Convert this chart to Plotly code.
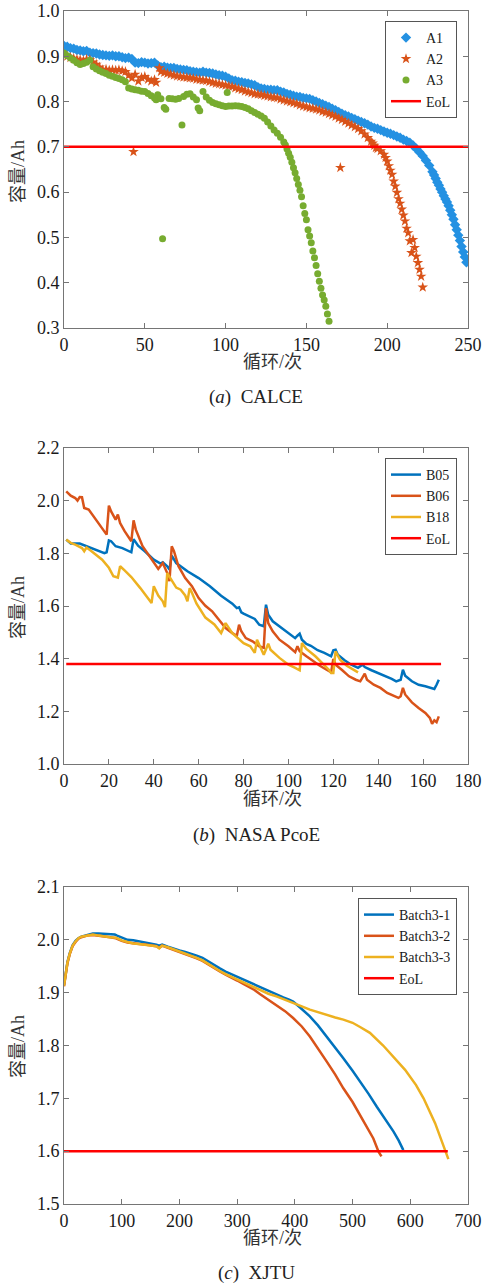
import plotly.graph_objects as go

W, H = 487, 1286

# ---------------- Panel (a) CALCE ----------------
a1_x = [0,2,4,6,8,10,12,14,16,18,20,22,24,26,28,30,32,34,36,38,40,42,44,46,48,50,52,54,56,58,
        60,62,64,66,68,70,72,74,76,78,80,82,84,86,88,90,92,94,96,98,100,102,104,106,108,110,112,114,116,118,
        120,122,124,126,128,130,132,134,136,138,140,142,144,146,148,150,152,154,156,158,160,162,164,166,168,170,
        172,174,176,178,180,182,184,186,188,190,192,194,196,198,200,202,204,206,208,210,212,214,216,218,220,222,224,226,228,
        229,230,231,232,233,234,235,236,237,238,239,240,241,242,243,244,245,246,247,248,249]
a1_y = [0.923,0.921,0.918,0.917,0.914,0.913,0.911,0.912,0.908,0.907,0.906,0.904,0.903,0.902,0.901,0.902,0.900,0.900,0.898,0.896,
        0.897,0.894,0.886,0.885,0.887,0.886,0.884,0.885,0.886,0.880,0.876,0.877,0.875,0.874,0.874,0.872,0.871,0.870,0.869,0.867,
        0.866,0.865,0.864,0.866,0.864,0.863,0.862,0.860,0.858,0.857,0.855,0.851,0.847,0.846,0.844,0.843,0.841,0.840,0.838,0.836,
        0.832,0.829,0.828,0.826,0.826,0.825,0.825,0.822,0.820,0.817,0.815,0.813,0.811,0.810,0.808,0.807,0.806,0.803,0.800,0.797,
        0.794,0.791,0.788,0.784,0.781,0.777,0.773,0.770,0.767,0.764,0.761,0.758,0.755,0.752,0.749,0.745,0.742,0.740,0.737,0.734,
        0.731,0.729,0.726,0.723,0.720,0.716,0.713,0.709,0.703,0.696,0.688,0.680,0.670,0.659,0.645,
        0.638,0.630,0.622,0.615,0.607,0.600,0.592,0.585,0.578,0.570,0.560,0.550,0.540,0.528,0.517,0.505,0.493,0.480,0.468,0.457,0.445]

a2_x = [0,2,4,6,8,10,12,14,16,18,20,22,24,26,28,30,32,34,36,38,40,42,43,44,46,48,50,52,54,56,57,59,
        60,62,64,66,68,70,72,74,76,78,80,82,84,86,88,90,92,94,96,98,100,102,104,106,108,110,112,114,116,118,
        120,122,124,126,128,130,132,134,136,138,140,142,144,146,148,150,152,154,156,158,160,162,164,166,168,170,171,
        172,174,176,178,180,182,184,186,188,190,191,192,193,194,196,198,199,200,201,202,203,204,205,206,207,208,209,
        210,211,212,213,214,215,216,217,218,219,220,221,222]
a2_y = [0.903,0.900,0.897,0.895,0.893,0.892,0.890,0.893,0.892,0.887,0.882,0.876,0.870,0.871,0.869,0.870,0.869,0.870,0.868,0.866,
        0.858,0.852,0.689,0.860,0.845,0.853,0.855,0.849,0.845,0.848,0.842,0.874,
        0.866,0.864,0.862,0.860,0.858,0.856,0.855,0.854,0.853,0.852,0.851,0.849,0.848,0.847,0.846,0.844,0.842,0.840,0.839,0.837,
        0.836,0.834,0.833,0.830,0.828,0.826,0.823,0.821,0.819,0.817,0.816,0.815,0.813,0.812,0.810,0.809,0.808,0.805,0.803,0.801,
        0.799,0.797,0.795,0.792,0.790,0.788,0.786,0.785,0.783,0.781,0.778,0.776,0.773,0.770,0.767,0.763,0.654,
        0.760,0.756,0.752,0.748,0.744,0.740,0.735,0.728,0.720,0.712,0.708,0.703,0.698,0.696,0.691,0.683,0.676,0.668,0.658,0.648,
        0.639,0.624,0.613,0.599,0.585,0.575,0.562,0.549,0.536,0.520,0.510,0.492,0.466,0.495,0.477,0.458,0.444,0.429,0.414,0.390]

a3_x = [0,2,4,6,8,10,12,14,16,18,20,22,24,26,28,30,32,34,36,38,40,42,44,46,48,50,52,54,56,57,58,60,61,62,63,65,67,69,71,73,
        74,76,78,80,82,83,84,86,88,90,92,94,96,98,100,101,102,104,106,108,110,112,114,116,118,120,122,124,126,128,130,132,134,136,
        137,138,139,140,141,142,143,144,145,146,147,148,149,150,151,152,153,154,155,156,157,158,159,160,161,162,163,164]
a3_y = [0.907,0.901,0.896,0.891,0.886,0.882,0.884,0.887,0.891,0.877,0.872,0.868,0.865,0.862,0.858,0.856,0.853,0.851,0.848,0.844,
        0.830,0.828,0.826,0.825,0.823,0.822,0.818,0.813,0.808,0.804,0.815,0.806,0.497,0.787,0.783,0.807,0.806,0.805,0.807,0.748,
        0.811,0.816,0.817,0.810,0.804,0.786,0.780,0.822,0.810,0.803,0.798,0.795,0.793,0.791,0.789,0.820,0.790,0.790,0.791,0.790,
        0.789,0.787,0.784,0.780,0.776,0.772,0.768,0.763,0.755,0.746,0.737,0.730,0.721,0.711,
        0.704,0.695,0.686,0.677,0.666,0.654,0.643,0.630,0.617,0.604,0.590,0.570,0.553,0.539,0.517,0.503,0.488,0.470,0.455,0.438,
        0.420,0.403,0.388,0.373,0.362,0.348,0.331,0.315]

eol_a_x = [0, 250]
eol_a_y = [0.7, 0.7]

# ---------------- Panel (b) NASA PcoE ----------------
b05_x = [1,3,7,10,13,15,18,19,20,21,23,26,29,30,31,33,36,40,43,44,46,47,48,50,55,60,65,70,75,77,78,79,80,85,87,89,90,91,93,96,
         100,103,104,105,106,108,110,113,116,119,120,121,122,125,128,131,133,134,137,140,143,146,148,150,151,152,155,158,161,164,165,166,167]
b05_y = [1.852,1.837,1.837,1.827,1.820,1.811,1.801,1.804,1.849,1.846,1.827,1.820,1.810,1.804,1.854,1.829,1.808,1.776,1.761,1.766,
         1.751,1.738,1.791,1.763,1.732,1.706,1.675,1.639,1.609,1.592,1.595,1.576,1.571,1.551,1.529,1.523,1.605,1.567,1.542,1.523,
         1.497,1.478,1.487,1.495,1.472,1.456,1.449,1.432,1.422,1.409,1.432,1.434,1.415,1.394,1.377,1.365,1.377,1.368,1.356,1.346,
         1.335,1.323,1.314,1.320,1.358,1.335,1.314,1.301,1.295,1.289,1.285,1.301,1.320]

b06_x = [1,3,5,6,7,8,9,11,19,20,21,23,24,25,27,30,31,32,35,38,42,44,46,47,48,49,51,54,57,60,63,66,69,72,75,77,78,79,81,84,
         87,89,90,91,93,96,100,103,104,105,108,111,114,117,119,120,121,124,127,130,132,134,135,138,141,144,147,149,150,151,152,155,
         158,161,163,164,165,166,167]
b06_y = [2.035,2.019,2.010,2.000,2.014,2.013,1.972,1.966,1.871,1.981,1.959,1.928,1.947,1.915,1.884,1.846,1.925,1.890,1.827,1.789,
         1.741,1.763,1.725,1.694,1.827,1.808,1.751,1.706,1.675,1.630,1.601,1.580,1.548,1.516,1.497,1.487,1.529,1.504,1.478,1.466,
         1.447,1.441,1.592,1.535,1.504,1.472,1.447,1.425,1.447,1.428,1.409,1.390,1.373,1.358,1.348,1.399,1.377,1.356,1.333,1.320,
         1.314,1.343,1.320,1.301,1.289,1.270,1.257,1.251,1.257,1.289,1.264,1.234,
         1.213,1.194,1.175,1.153,1.166,1.159,1.181]

b18_x = [1,3,5,7,8,9,10,12,15,17,20,22,24,25,27,30,34,39,40,42,44,45,46,48,50,52,54,55,56,57,59,63,67,70,72,75,80,83,85,86,
         88,89,91,92,96,100,103,105,106,108,112,115,118,119,120,121,123,126,131]
b18_y = [1.852,1.840,1.833,1.825,1.820,1.808,1.822,1.810,1.790,1.776,1.745,1.713,1.708,1.751,1.735,1.710,1.668,1.611,1.675,1.640,
         1.618,1.596,1.725,1.700,1.670,1.662,1.640,1.618,1.668,1.650,1.610,1.556,1.530,1.497,1.535,1.497,1.459,1.447,1.422,1.472,
         1.434,1.415,1.457,1.434,1.403,1.377,1.365,1.356,1.459,1.437,1.409,1.384,1.358,1.346,1.346,1.428,1.396,1.373,1.348]

eol_b_x = [1, 168]
eol_b_y = [1.38, 1.38]

# ---------------- Panel (c) XJTU ----------------
c1_x = [0,3,6,10,15,20,25,30,40,50,60,70,80,88,92,100,110,120,130,140,150,160,165,170,180,190,200,210,220,230,240,250,260,270,
        280,290,300,310,320,330,340,350,360,370,380,390,397,410,426,440,455,470,484,500,513,528,542,557,571,580,588]
c1_y = [1.915,1.940,1.958,1.975,1.990,1.998,2.003,2.006,2.009,2.012,2.012,2.011,2.011,2.010,2.008,2.004,2.000,1.999,1.997,1.996,
        1.994,1.991,1.989,1.991,1.987,1.983,1.980,1.977,1.974,1.970,1.966,1.959,1.953,1.946,1.940,1.935,1.930,1.925,1.920,1.915,
        1.910,1.905,1.900,1.895,1.891,1.887,1.883,1.871,1.855,1.838,1.817,1.797,1.776,1.752,1.732,1.708,1.684,1.660,1.637,1.620,1.602]

c2_x = [0,3,6,10,15,20,25,30,40,50,60,70,80,90,100,110,120,130,140,150,160,165,170,180,190,200,210,220,230,240,250,260,270,280,
        290,300,310,320,330,340,354,368,383,397,412,426,440,455,470,484,500,513,525,536,545,550]
c2_y = [1.912,1.938,1.956,1.973,1.988,1.996,2.002,2.005,2.008,2.009,2.008,2.007,2.005,2.003,1.998,1.995,1.993,1.992,1.991,1.990,
        1.988,1.985,1.989,1.985,1.981,1.978,1.974,1.970,1.965,1.960,1.953,1.946,1.940,1.934,1.929,1.923,1.917,1.911,1.905,1.897,
        1.887,1.877,1.865,1.852,1.836,1.817,1.795,1.770,1.745,1.719,1.693,1.669,1.647,1.624,1.599,1.590]

c3_x = [0,3,6,10,15,20,25,30,40,50,60,70,80,90,100,110,120,130,140,150,160,165,170,180,190,200,210,220,230,240,250,260,270,280,
        290,300,310,320,330,340,354,368,383,397,412,426,440,455,470,484,500,513,530,553,570,591,610,623,643,660,666]
c3_y = [1.913,1.939,1.957,1.974,1.989,1.997,2.003,2.006,2.008,2.010,2.008,2.006,2.005,2.004,1.999,1.996,1.993,1.992,1.991,1.990,
        1.988,1.984,1.989,1.986,1.982,1.979,1.975,1.971,1.966,1.961,1.954,1.947,1.941,1.935,1.930,1.925,1.919,1.914,1.909,1.904,
        1.898,1.893,1.887,1.880,1.874,1.868,1.863,1.858,1.853,1.849,1.843,1.835,1.824,1.800,1.780,1.754,1.725,1.700,1.653,1.602,1.585]

eol_c_x = [0, 665]
eol_c_y = [1.6, 1.6]

# ---------------- colours / fonts ----------------
BLUE_A = "#2491E2"
BLUE = "#0072BD"
ORANGE = "#D95319"
YELLOW = "#EDB120"
GREEN = "#77AC30"
RED = "#FF0000"
SERIF = "Liberation Serif"
CJK = "Liberation Serif, Noto Sans CJK SC"

fig = go.Figure()

# panel a
fig.add_trace(go.Scatter(x=a1_x, y=a1_y, mode="markers", name="A1", xaxis="x", yaxis="y", legend="legend",
                         marker=dict(symbol="diamond", size=8, color=BLUE_A)))
fig.add_trace(go.Scatter(x=a2_x, y=a2_y, mode="markers", name="A2", xaxis="x", yaxis="y", legend="legend",
                         marker=dict(symbol="star", size=8, color=ORANGE)))
fig.add_trace(go.Scatter(x=a3_x, y=a3_y, mode="markers", name="A3", xaxis="x", yaxis="y", legend="legend",
                         marker=dict(symbol="circle", size=7, color=GREEN)))
fig.add_trace(go.Scatter(x=eol_a_x, y=eol_a_y, mode="lines", name="EoL", xaxis="x", yaxis="y", legend="legend",
                         line=dict(color=RED, width=2.5)))

# panel b
for xs, ys, nm, col in [(b05_x, b05_y, "B05", BLUE), (b06_x, b06_y, "B06", ORANGE), (b18_x, b18_y, "B18", YELLOW)]:
    fig.add_trace(go.Scatter(x=xs, y=ys, mode="lines", name=nm, xaxis="x2", yaxis="y2", legend="legend2",
                             line=dict(color=col, width=2.5)))
fig.add_trace(go.Scatter(x=eol_b_x, y=eol_b_y, mode="lines", name="EoL", xaxis="x2", yaxis="y2", legend="legend2",
                         line=dict(color=RED, width=2.5)))

# panel c
for xs, ys, nm, col in [(c1_x, c1_y, "Batch3-1", BLUE), (c2_x, c2_y, "Batch3-2", ORANGE), (c3_x, c3_y, "Batch3-3", YELLOW)]:
    fig.add_trace(go.Scatter(x=xs, y=ys, mode="lines", name=nm, xaxis="x3", yaxis="y3", legend="legend3",
                             line=dict(color=col, width=2.5)))
fig.add_trace(go.Scatter(x=eol_c_x, y=eol_c_y, mode="lines", name="EoL", xaxis="x3", yaxis="y3", legend="legend3",
                         line=dict(color=RED, width=2.5)))


def px_x(p):
    return p / W


def px_y(p):
    return 1 - p / H


XDOM = [px_x(64), px_x(468)]
axis_common = dict(showline=True, linecolor="#757575", linewidth=1, mirror="ticks", ticks="inside", ticklen=5,
                   tickcolor="#757575", showgrid=False, zeroline=False, automargin=False,
                   ticklabeloverflow="allow",
                   tickfont=dict(family=SERIF, size=18, color="#1a1a1a"))

fig.update_layout(
    template="none",
    width=W, height=H, margin=dict(l=0, r=0, t=0, b=0, pad=0, autoexpand=False),
    font=dict(family=SERIF, size=16, color="#1a1a1a"),
    paper_bgcolor="white", plot_bgcolor="white", showlegend=True, hovermode=False,
    xaxis=dict(domain=XDOM, anchor="y", range=[0, 250], dtick=50, **axis_common),
    yaxis=dict(domain=[px_y(328), px_y(11)], anchor="x", range=[0.3, 1.0], tickvals=[0.3, 0.4, 0.5, 0.6, 0.7, 0.8, 0.9, 1.0],
               tickformat=".1f", **axis_common),
    xaxis2=dict(domain=XDOM, anchor="y2", range=[0, 180], dtick=20, **axis_common),
    yaxis2=dict(domain=[px_y(764), px_y(448)], anchor="x2", range=[1.0, 2.2], dtick=0.2, tickformat=".1f", **axis_common),
    xaxis3=dict(domain=XDOM, anchor="y3", range=[0, 700], dtick=100, **axis_common),
    yaxis3=dict(domain=[px_y(1204), px_y(887)], anchor="x3", range=[1.5, 2.1], dtick=0.1, tickformat=".1f", **axis_common),
)

legend_common = dict(xanchor="right", yanchor="top", bgcolor="white", bordercolor="#555", borderwidth=1,
                     font=dict(family=SERIF, size=14, color="#1a1a1a"), tracegroupgap=0)
fig.update_layout(
    legend=dict(x=px_x(457), y=px_y(21), **legend_common),
    legend2=dict(x=px_x(457), y=px_y(458), **legend_common),
    legend3=dict(x=px_x(457), y=px_y(898), **legend_common),
)

annos = []
for xt_y, yt_y, cap_y, cap in [(362, 172, 397, "(<i>a</i>)  CALCE"),
                               (799, 608, 835, "(<i>b</i>)  NASA PcoE"),
                               (1238, 1047, 1273, "(<i>c</i>)  XJTU")]:
    annos.append(dict(x=px_x(272), y=px_y(xt_y), xref="paper", yref="paper", text="循环/次", showarrow=False,
                      xanchor="center", yanchor="middle", font=dict(family=CJK, size=18, color="#333")))
    annos.append(dict(x=px_x(18), y=px_y(yt_y), xref="paper", yref="paper", text="容量/Ah", showarrow=False,
                      textangle=-90, xanchor="center", yanchor="middle", font=dict(family=CJK, size=18, color="#333")))
    annos.append(dict(x=px_x(256), y=px_y(cap_y), xref="paper", yref="paper", text=cap, showarrow=False,
                      xanchor="center", yanchor="middle", font=dict(family=SERIF, size=19, color="#222")))
fig.update_layout(annotations=annos)

# the page's default 8px body margin is removed so the 487x1286 figure fills the window exactly
fig.write_html("out.html", config={"displayModeBar": False, "staticPlot": True},
               post_script="document.body.style.margin='0px';")
